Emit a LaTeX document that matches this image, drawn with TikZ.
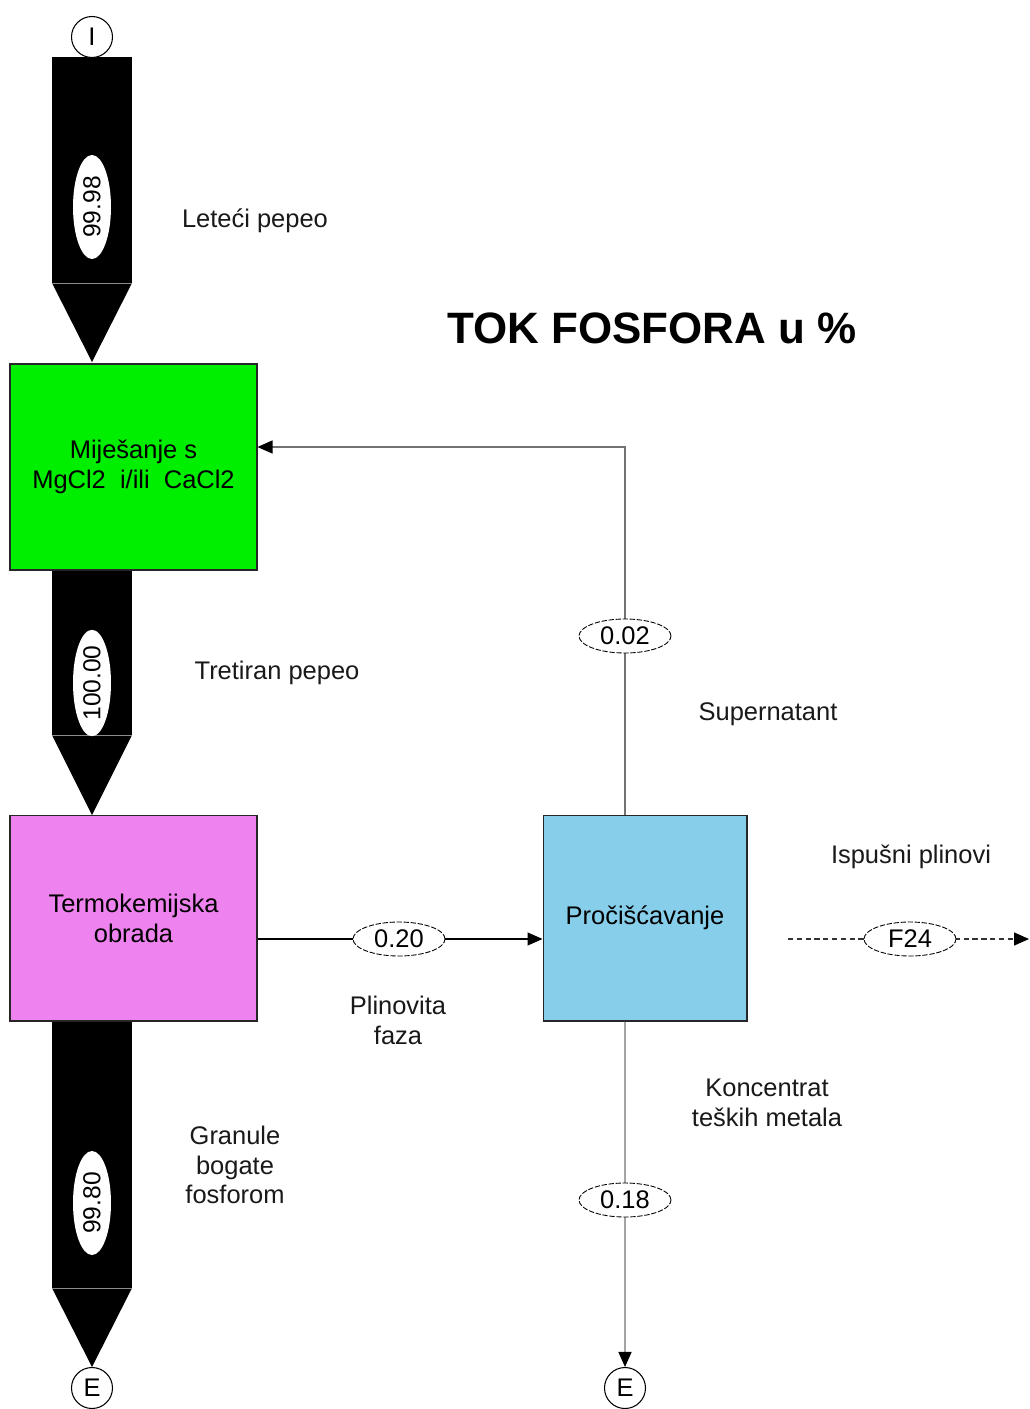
\documentclass[tikz,border=0pt]{standalone}
\usepackage{fontspec}
\setmainfont{Liberation Sans}
\usetikzlibrary{shapes.geometric,arrows.meta}

\definecolor{zelena}{RGB}{0,238,0}
\definecolor{ljubicasta}{RGB}{238,130,238}
\definecolor{plava}{RGB}{135,206,235}

\tikzset{
  proces/.style={draw=black!85, line width=0.6pt, minimum height=4.12cm, align=center,
    inner sep=0pt, font=\fontsize{14.5}{17}\selectfont},
  opis/.style={align=center, text=black!90, font=\fontsize{14.5}{17}\selectfont},
  iznos/.style={ellipse, draw, dash pattern=on 3pt off 1pt, line width=0.5pt, fill=white,
    inner sep=0pt, minimum width=1.84cm, minimum height=0.68cm, font=\fontsize{14.5}{17}\selectfont},
  debeli/.style={ellipse, fill=white, inner sep=0pt, minimum width=2.08cm, minimum height=0.76cm,
    font=\fontsize{14}{17}\selectfont},
  kraj/.style={circle, draw, line width=0.6pt, fill=white, minimum size=0.82cm, inner sep=0pt,
    font=\fontsize{14.5}{17}\selectfont},
  veza/.style={draw=black!55, line width=0.8pt, -{Triangle[length=0.3cm, width=0.26cm, color=black]}}
}

\begin{document}
\begin{tikzpicture}[x=0.02cm, y=-0.02cm]
  \useasboundingbox (0,0) rectangle (1029,1409);

  % debele strelice
  \foreach \ime/\v/\s/\t/\c/\br in {s1/57/283/362/207/99.98, s2/570/735/815/683/100.00, s3/1021/1288/1367/1203/99.80} {
    \fill (52,\v) rectangle (132,\s);
    \fill (52,\s) -- (132,\s) -- (92,\t) -- cycle;
    \draw[black!45, line width=0.4pt] (52,\s) -- (132,\s);
    \node[debeli, rotate=90] (\ime) at (92,\c) {\br};
  }

  % procesi
  \node[proces, fill=zelena, minimum width=4.94cm] (mijesanje) at (133.5,467) {Miješanje s\\MgCl2\ \ i/ili\ \ CaCl2};
  \node[proces, fill=ljubicasta, minimum width=4.94cm] (termo) at (133.5,918) {Termokemijska\\obrada};
  \node[proces, fill=plava, minimum width=4.08cm] (ciscenje) at (645,918) {Pročišćavanje};

  \node[kraj] (ulaz) at (92,37) {I};
  \node[kraj] (izlaz1) at (92,1388) {E};
  \node[kraj] (izlaz2) at (625,1388) {E};

  \node[font=\bfseries\fontsize{25}{30}\selectfont] (naslov) at (652,328) {TOK FOSFORA u \%};

  % tokovi
  \draw[veza, draw=black, line width=0.6pt] ([yshift=-0.42cm]termo.east) -- ([yshift=-0.42cm]ciscenje.west);
  \draw[veza] ([xshift=-0.4cm]ciscenje.north) |- ([yshift=0.4cm]mijesanje.east);
  \draw[veza] ([xshift=-0.4cm]ciscenje.south) -- (izlaz2.north);
  \coordinate (f24a) at (788,939);
  \coordinate (f24b) at (1029,939);
  \draw[veza, draw=black!80, dash pattern=on 3pt off 2pt] (f24a) -- (f24b);

  \node[iznos] (t020) at (399,939) {0.20};
  \node[iznos] (t002) at (625,636) {0.02};
  \node[iznos] (t018) at (625,1200) {0.18};
  \node[iznos] (tf24) at (910,939) {F24};

  % opisi
  \node[opis] (leteci) at (255,221) {Leteći pepeo};
  \node[opis] (tretiran) at (277,673) {Tretiran pepeo};
  \node[opis] (granule) at (235,1165) {Granule\\bogate\\fosforom};
  \node[opis] (plinovita) at (398,1020) {Plinovita\\faza};
  \node[opis] (supernatant) at (768,714) {Supernatant};
  \node[opis] (ispusni) at (911,857) {Ispušni plinovi};
  \node[opis] (koncentrat) at (767,1103) {Koncentrat\\teških metala};
\end{tikzpicture}
\end{document}
